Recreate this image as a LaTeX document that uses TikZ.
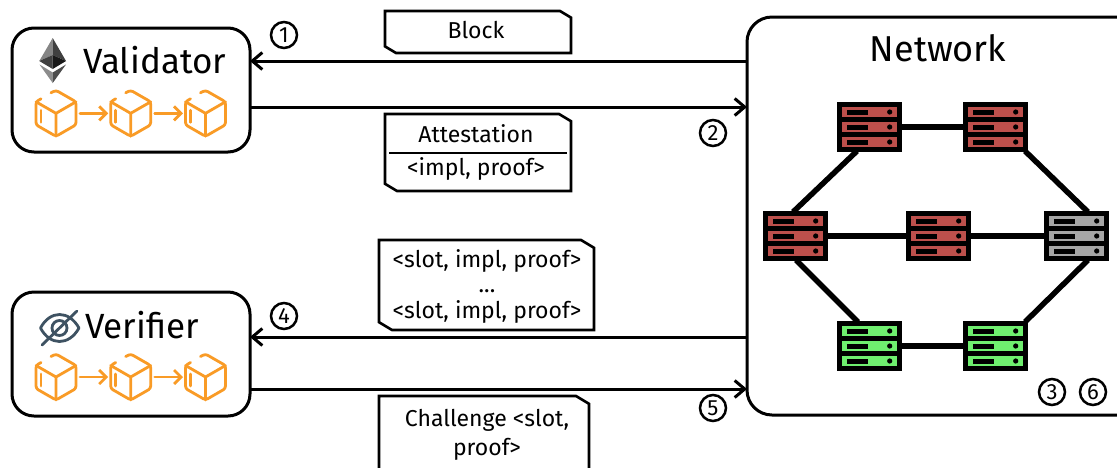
\documentclass[tikz,border=0pt]{standalone}
\usepackage{fontspec}
\setmainfont{Fira Sans}[Scale=1]
\usetikzlibrary{arrows.meta,calc}
\definecolor{cuborange}{HTML}{F99B26}
\definecolor{srvred}{HTML}{BD504C}
\definecolor{srvgrey}{HTML}{A6A6A6}
\definecolor{srvgreen}{HTML}{6FEF6F}
\definecolor{eyeslate}{HTML}{3E5262}
\tikzset{
  x=1pt,y=-1pt,
  bigbox/.style={draw=black,line width=3pt,rounded corners=22pt,fill=white,inner sep=0pt,outer sep=0pt,anchor=north west},
  conn/.style={draw=black,line width=3pt,-{Straight Barb[length=10pt,width=17pt,line width=3pt]}},
  link/.style={draw=black,line width=5.5pt},
  srv/.style={fill=black,draw=none,minimum width=65pt,minimum height=50pt,inner sep=0pt,outer sep=0pt,anchor=north west},
  numc/.style={circle,draw=black,line width=2.5pt,minimum size=26pt,inner sep=0pt,font=\fontsize{22}{22}\selectfont},
  cubeanchor/.style={minimum width=42pt,minimum height=47pt,inner sep=0pt,outer sep=0pt},
  cubeline/.style={draw=cuborange,line width=2.8pt,line cap=round,line join=round},
  cubearrow/.style={cubeline,-{Straight Barb[length=7pt,width=14pt,line width=2.8pt]},shorten >=1.5pt,shorten <=3pt},
  callout/.style={draw=black,line width=2.6pt,fill=white,line join=miter},
  msg/.style={font=\fontsize{23}{25.5}\selectfont,align=center,inner sep=0pt},
  title/.style={font=\fontsize{36}{36}\selectfont,inner sep=0pt},
  pics/cube/.style={code={
    \draw[cubeline,rounded corners=2.5pt] (-5,-20.5) -- (0,-23) -- (20,-11.5) -- (20,11.5) -- (0,23) -- (-20,11.5) -- (-20,-11.5) -- (-15,-14.5);
    \draw[cubeline] (-20,-11.5) -- (0,0) -- (20,-11.5) (0,0) -- (0,23);
    \draw[cubeline] (-15,-3) -- (-15,9);
  }}
}
\newcommand{\serverat}[4]{%
  \node[srv] (#1) at (#2,#3) {};
  \foreach \dy in {5,20,35}{%
    \fill[#4] (#2+5,#3+\dy) rectangle ++(55,10);
    \fill[black] (#2+10,#3+\dy+2.5) rectangle ++(20.5,5);
    \fill[black] (#2+52.7,#3+\dy+5) circle[radius=2.6];
  }%
}
\newcommand{\calloutbox}[5]{%
  \draw[callout] (#1,#2) -- (#3-#5,#2) -- (#3,#2+#5*0.6) -- (#3,#4) -- (#1+#5,#4) -- (#1,#4-#5*0.6) -- cycle;
}
\newcommand{\cubechain}[2]{%
  \node[cubeanchor] (#1a) at (56,#2) {};
  \node[cubeanchor] (#1b) at (130.7,#2) {};
  \node[cubeanchor] (#1c) at (205.5,#2) {};
  \pic at (#1a) {cube};
  \pic at (#1b) {cube};
  \pic at (#1c) {cube};
  \draw[cubearrow] (#1a) ++(21,0) -- ($(#1b)+(-21,0)$);
  \draw[cubearrow] (#1b) ++(21,0) -- ($(#1c)+(-21,0)$);
}
\begin{document}
\begin{tikzpicture}
\useasboundingbox (0,0) rectangle (1117,467);
\clip (0,0) rectangle (1117,467);
\fill[white] (0,0) rectangle (1117,467);

% big boxes
\node[bigbox,minimum width=238pt,minimum height=124pt] (val) at (12,28) {};
\node[bigbox,minimum width=238pt,minimum height=124pt] (ver) at (12,292) {};
\node[bigbox,minimum width=400pt,minimum height=398pt,rounded corners=25pt] (net) at (747,17) {};

% anchor points of the connectors
\coordinate (a1) at (val.east |- 0,61);
\coordinate (b1) at (net.west |- 0,61);
\coordinate (a2) at (val.east |- 0,107);
\coordinate (b2) at (net.west |- 0,107);
\coordinate (a4) at (ver.east |- 0,337);
\coordinate (b4) at (net.west |- 0,337);
\coordinate (a5) at (ver.east |- 0,389);
\coordinate (b5) at (net.west |- 0,389);
\draw[conn] (b1) -- (a1);
\draw[conn] (a2) -- (b2);
\draw[conn] (b4) -- (a4);
\draw[conn] (a5) -- (b5);

% titles
\node[title,font=\fontsize{35}{35}\selectfont,anchor=base west] (valt) at (83,73) {Validator};
\node[title,font=\fontsize{35}{35}\selectfont,anchor=base west] (vert) at (85,338) {Verifier};
\node[title,anchor=base] (nett) at (938,61) {Network};

% ethereum logo
\fill[black!48] (52.7,38) -- (39.3,61) -- (52.7,55) -- cycle;
\fill[black!75] (52.7,38) -- (66,61) -- (52.7,55) -- cycle;
\fill[black!75] (39.3,61) -- (52.7,55) -- (52.7,69) -- cycle;
\fill[black!90] (66,61) -- (52.7,55) -- (52.7,69) -- cycle;
\fill[black!45] (39.5,64.5) -- (52.7,72.5) -- (52.7,83) -- cycle;
\fill[black!70] (66,64.5) -- (52.7,72.5) -- (52.7,83) -- cycle;

% eye logo
\draw[eyeslate,line width=2.8pt,line join=round] (40.5,328) .. controls (50,310) and (69,310) .. (79,328) .. controls (69,346) and (50,346) .. (40.5,328) -- cycle;
\draw[eyeslate,line width=2.8pt] (59.5,328) circle[radius=7.5];
\draw[eyeslate,line width=2.8pt,line cap=round] (42,345) -- (77,311);

% cube chains
\cubechain{p}{113.3}
\cubechain{q}{377}

% servers
\serverat{sa}{837}{102}{srvred}
\serverat{sb}{963}{102}{srvred}
\serverat{sc}{763}{211}{srvred}
\serverat{sd}{906}{211}{srvred}
\serverat{se}{1044}{211}{srvgrey}
\serverat{sf}{837}{321}{srvgreen}
\serverat{sg}{963}{321}{srvgreen}
\draw[link] (sa.east) -- (sb.west);
\draw[link] (sc.east) -- (sd.west);
\draw[link] (sd.east) -- (se.west);
\draw[link] (sf.east) -- (sg.west);
\draw[link] ($(sa.south west)+(20,-1)$) -- ($(sc.north west)+(30,1)$);
\draw[link] ($(sb.south west)+(62,-1)$) -- ($(se.north west)+(44,1)$);
\draw[link] ($(sc.south west)+(33,-1)$) -- ($(sf.north west)+(21,1)$);
\draw[link] ($(se.south west)+(44,-1)$) -- ($(sg.north west)+(62,1)$);

% messages
\calloutbox{385}{11}{571}{53}{11}
\node[msg] (m1) at (476,30) {Block};
\calloutbox{385}{114}{571}{191}{12}
\node[msg] (m2) at (476,134) {Attestation};
\node[msg] (m2b) at (476,169) {<impl, proof>};
\coordinate (d1) at (389,153);
\coordinate (d2) at (567,153);
\draw[black,line width=1.6pt] (d1) -- (d2);
\calloutbox{379}{240}{594}{330}{13}
\node[msg] (m3) at (487,286) {<slot, impl, proof>\\...\\<slot, impl, proof>};
\calloutbox{379}{396}{589}{480}{13}
\node[msg] (m4) at (487,435) {Challenge <slot,\\[3.5pt]proof>};

% numbers
\node[numc] (n1) at (284,35) {1};
\node[numc] (n2) at (713,133) {2};
\node[numc] (n4) at (284,316) {4};
\node[numc] (n5) at (713,408) {5};
\node[numc] (n3) at (1052,392) {3};
\node[numc] (n6) at (1093,392) {6};
\end{tikzpicture}
\end{document}
